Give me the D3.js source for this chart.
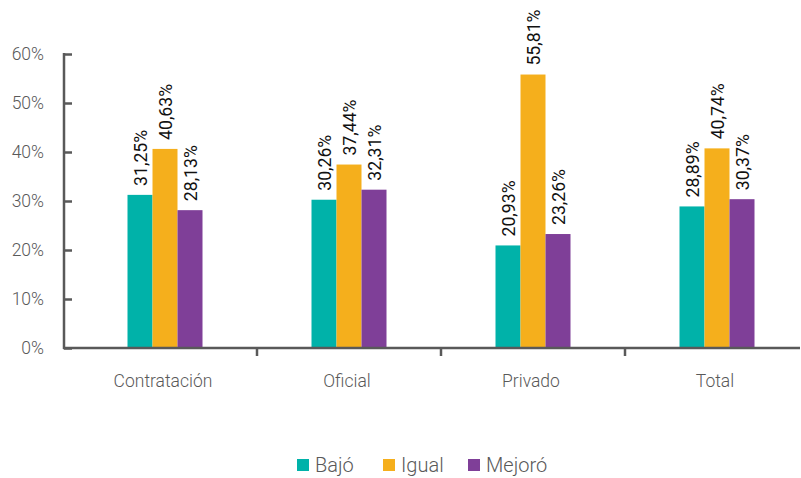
<!DOCTYPE html>
<html>
<head>
<meta charset="utf-8">
<script src="https://cdn.jsdelivr.net/npm/d3@7"></script>
<style>
  body { margin: 0; background: #fff; }
  svg { display: block; font-family: "Roboto", "Open Sans", sans-serif; }
</style>
</head>
<body>
<svg width="801" height="478"></svg>
<script>
// Data
const categories = ["Contratación", "Oficial", "Privado", "Total"];
const seriesNames = ["Bajó", "Igual", "Mejoró"];
const bajo = [31.25, 30.26, 20.93, 28.89];
const igual = [40.63, 37.44, 55.81, 40.74];
const mejoro = [28.13, 32.31, 23.26, 30.37];
const yTicks = [0, 10, 20, 30, 40, 50, 60];
const colors = ["#00B2A9", "#F5AF1C", "#7F3F98"];

const series = [bajo, igual, mejoro];
const rows = categories.map((c, i) => ({ cat: c, vals: series.map(s => s[i]) }));

const svg = d3.select("svg");
const axisLeftX = 64, axisRightX = 800;
const y0 = 348;

// Scales
const xScale = d3.scaleBand()
    .domain(categories)
    .range([73, 809]);
const xInner = d3.scaleBand()
    .domain(seriesNames)
    .range([xScale.bandwidth() / 2 - 37.5, xScale.bandwidth() / 2 + 37.5]);
const yScale = d3.scaleLinear()
    .domain([0, 60])
    .range([y0, 54]);

const fmt = v => v.toFixed(2).replace(".", ",") + "%";

// Bars
const groups = svg.append("g").selectAll("g")
    .data(rows)
    .enter()
    .append("g")
    .attr("transform", d => "translate(" + xScale(d.cat) + ",0)");

groups.selectAll("rect")
    .data(d => d.vals.map((v, j) => ({ name: seriesNames[j], v: v, j: j })))
    .enter()
    .append("rect")
    .attr("x", d => xInner(d.name))
    .attr("y", d => yScale(d.v))
    .attr("width", xInner.bandwidth())
    .attr("height", d => y0 - yScale(d.v))
    .attr("fill", d => colors[d.j]);

// Value labels (rotated, narrow)
groups.selectAll("text")
    .data(d => d.vals.map((v, j) => ({ name: seriesNames[j], v: v })))
    .enter()
    .append("text")
    .attr("transform", d => "translate(" + (xInner(d.name) + xInner.bandwidth() / 2 + 7) + "," + (yScale(d.v) - 9) + ") rotate(-90)")
    .attr("font-family", "Roboto, sans-serif")
    .attr("font-size", 19)
    .attr("textLength", 56)
    .attr("lengthAdjust", "spacingAndGlyphs")
    .attr("fill", "#111")
    .text(d => fmt(d.v));

// Y axis
const yAxis = svg.append("g")
    .attr("transform", "translate(" + axisLeftX + ",0)")
    .call(d3.axisRight(yScale).tickValues(yTicks).tickSize(8).tickFormat(d => d + "%"));
yAxis.select(".domain").remove();
yAxis.selectAll(".tick line").attr("stroke", "#595959").attr("stroke-width", 2.5);
yAxis.selectAll(".tick text")
    .attr("x", -20)
    .attr("text-anchor", "end")
    .attr("fill", "#595959")
    .attr("font-size", 17.5)
    .attr("font-weight", 300)
    .attr("font-family", "Roboto, sans-serif");
yAxis.append("line")
    .attr("x1", 0).attr("x2", 0)
    .attr("y1", yScale(60) - 1).attr("y2", y0 + 1)
    .attr("stroke", "#595959").attr("stroke-width", 2.5);

// X axis
const xAxis = svg.append("g")
    .attr("transform", "translate(0," + y0 + ")");
xAxis.append("line")
    .attr("x1", axisLeftX - 1).attr("x2", axisRightX)
    .attr("stroke", "#595959").attr("stroke-width", 2.5);
xAxis.selectAll(".xtick")
    .data(categories.slice(1))
    .enter()
    .append("line")
    .attr("x1", d => xScale(d)).attr("x2", d => xScale(d))
    .attr("y1", 0).attr("y2", 8)
    .attr("stroke", "#595959").attr("stroke-width", 2.5);
xAxis.selectAll(".xlabel")
    .data(categories)
    .enter()
    .append("text")
    .attr("x", d => xScale(d) + xScale.bandwidth() / 2 - 2)
    .attr("y", 39)
    .attr("text-anchor", "middle")
    .attr("fill", "#595959")
    .attr("font-size", 17.5)
    .attr("font-weight", 300)
    .attr("font-family", "Roboto, sans-serif")
    .text(d => d);

// Legend
const legendX = [297, 383, 468];
const legend = svg.append("g").selectAll("g")
    .data(seriesNames)
    .enter()
    .append("g")
    .attr("transform", (d, i) => "translate(" + legendX[i] + ",459)");
legend.append("rect")
    .attr("width", 12).attr("height", 12)
    .attr("fill", (d, i) => colors[i]);
legend.append("text")
    .attr("x", 18).attr("y", 13)
    .attr("fill", "#595959")
    .attr("font-size", 20)
    .attr("font-weight", 300)
    .attr("font-family", "Roboto, sans-serif")
    .text(d => d);
</script>
</body>
</html>
